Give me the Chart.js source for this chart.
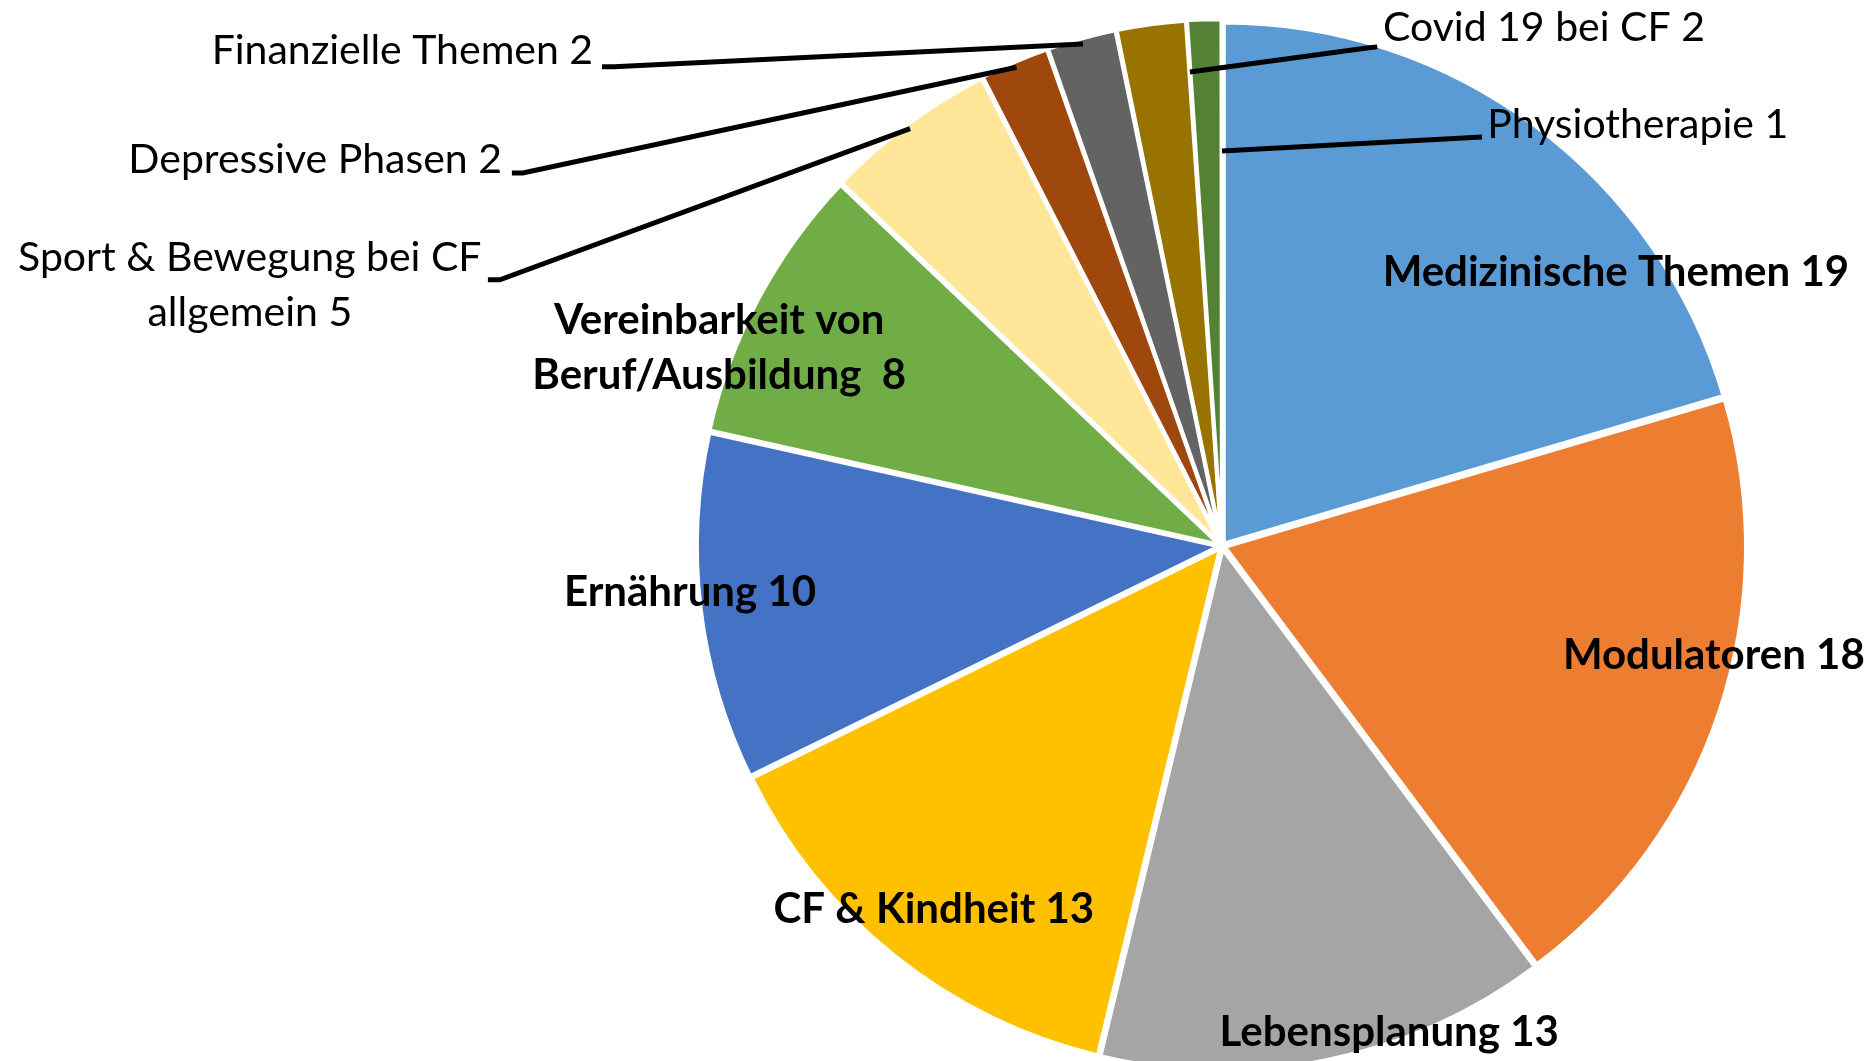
<!DOCTYPE html>
<html>
<head>
<meta charset="utf-8">
<script src="https://cdn.jsdelivr.net/npm/chart.js@4/dist/chart.umd.min.js"></script>
<style>
  html, body { margin: 0; padding: 0; background: #fff; overflow: hidden; }
  #wrap { width: 1875px; height: 1061px; }
</style>
</head>
<body>
<div id="wrap"><canvas id="pie" width="1875" height="1061"></canvas></div>
<script>
// ---------- data ----------
const topics = ['Medizinische Themen', 'Modulatoren', 'Lebensplanung', 'CF & Kindheit', 'Ernährung',
  'Vereinbarkeit von Beruf/Ausbildung', 'Sport & Bewegung bei CF allgemein', 'Depressive Phasen',
  'Finanzielle Themen', 'Covid 19 bei CF', 'Physiotherapie'];
const counts = [19, 18, 13, 13, 10, 8, 5, 2, 2, 2, 1];
const sliceColors = ['#5B9BD5', '#ED7D31', '#A5A5A5', '#FFC000', '#4472C4', '#70AD47',
  '#FFE699', '#9E480E', '#636363', '#997300', '#548235'];
// label text as shown on the chart (lines)
const labelLines = [
  ['Medizinische Themen 19'], ['Modulatoren 18'], ['Lebensplanung 13'], ['CF & Kindheit 13'], ['Ernährung 10'],
  ['Vereinbarkeit von', 'Beruf/Ausbildung  8'], ['Sport & Bewegung bei CF', 'allgemein 5'],
  ['Depressive Phasen 2'], ['Finanzielle Themen 2'], ['Covid 19 bei CF 2'], ['Physiotherapie 1']
];

// ---------- label layout (units of pie radius, relative to pie centre) ----------
// pos: text anchor, align, bold; lead: leader line points from text side, tip = [t within slice, radius fraction]
const labelLayout = [
  { pos: [0.756, -0.526], align: 'center', bold: true },
  { pos: [0.944, 0.211], align: 'center', bold: true },
  { pos: [0.321, 0.933], align: 'center', bold: true },
  { pos: [-0.553, 0.697], align: 'center', bold: true },
  { pos: [-1.021, 0.090], align: 'center', bold: true },
  { pos: [-0.965, -0.381], align: 'center', bold: true },
  { pos: [-1.866, -0.501], align: 'center', lead: [[-1.409, -0.511], [-1.386, -0.511]], tip: [0.5, 1.0] },
  { pos: [-1.382, -0.741], align: 'right', lead: [[-1.363, -0.716], [-1.342, -0.716]], tip: [0.5, 1.0] },
  { pos: [-1.207, -0.950], align: 'right', lead: [[-1.190, -0.920], [-1.167, -0.920]], tip: [0.5, 1.0] },
  { pos: [0.309, -0.994], align: 'left', lead: [[0.298, -0.958], [0.278, -0.956]], tip: [1.0, 0.912] },
  { pos: [0.509, -0.808], align: 'left', lead: [[0.499, -0.785]], tip: [1.0, 0.758] }
];
const FONT = 'Lato, "Open Sans", sans-serif';
const LINE_H = 55;

// ---------- labels plugin ----------
const pieLabels = {
  id: 'pieLabels',
  afterDatasetsDraw(chart) {
    const ctx = chart.ctx;
    const arcs = chart.getDatasetMeta(0).data;
    const cx = arcs[0].x, cy = arcs[0].y, r = arcs[0].outerRadius;
    const pt = p => [cx + p[0] * r, cy + p[1] * r];
    ctx.save();
    // leader lines
    ctx.strokeStyle = '#000';
    ctx.lineWidth = 5;
    ctx.lineJoin = 'miter';
    labelLayout.forEach((l, i) => {
      if (!l.lead) return;
      const a = arcs[i];
      const ang = a.startAngle + (a.endAngle - a.startAngle) * l.tip[0];
      const tipR = a.outerRadius * l.tip[1];
      ctx.beginPath();
      l.lead.forEach((p, k) => { const q = pt(p); k ? ctx.lineTo(q[0], q[1]) : ctx.moveTo(q[0], q[1]); });
      ctx.lineTo(cx + Math.cos(ang) * tipR, cy + Math.sin(ang) * tipR);
      ctx.stroke();
    });
    // texts
    ctx.fillStyle = '#000';
    ctx.textBaseline = 'middle';
    labelLayout.forEach((l, i) => {
      const lines = labelLines[i];
      const [x, y] = pt(l.pos);
      ctx.font = (l.bold ? 'bold 42px ' : '41px ') + FONT;
      ctx.textAlign = l.align;
      const y0 = y - (lines.length - 1) * LINE_H / 2;
      lines.forEach((s, k) => ctx.fillText(s, x, y0 + k * LINE_H));
    });
    ctx.restore();
  }
};

// ---------- chart ----------
new Chart(document.getElementById('pie'), {
  type: 'pie',
  data: {
    labels: topics,
    datasets: [{ data: counts, backgroundColor: sliceColors, borderColor: '#fff', borderWidth: 4, offset: 12, hoverOffset: 0 }]
  },
  options: {
    responsive: false,
    animation: false,
    radius: 521,
    layout: { padding: { left: 569, right: 0, top: 31, bottom: 0 } },
    plugins: { legend: { display: false }, tooltip: { enabled: false } },
    events: []
  },
  plugins: [pieLabels]
});
</script>
</body>
</html>
